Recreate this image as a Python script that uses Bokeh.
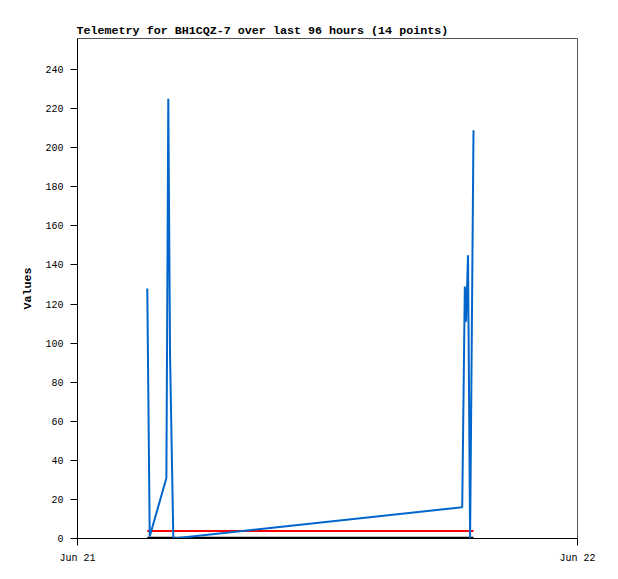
import pandas as pd
from bokeh.plotting import figure
from bokeh.models import FixedTicker, DatetimeTickFormatter
from bokeh.embed import file_html
from bokeh.resources import INLINE

# telemetry samples
times = ["2024-06-21 03:21:00", "2024-06-21 03:28:00", "2024-06-21 04:16:00",
         "2024-06-21 04:21:30", "2024-06-21 04:26:30", "2024-06-21 04:36:00",
         "2024-06-21 18:28:00", "2024-06-21 18:35:30", "2024-06-21 18:39:00",
         "2024-06-21 18:44:40", "2024-06-21 18:50:40", "2024-06-21 19:00:30"]
blue_vals = [128, 1, 31, 225, 94, 0, 16, 129, 111, 145, 0, 209]
red_vals = [3.8, 3.8, 3.8, 3.8, 3.8, 3.8, 3.8, 3.8, 3.8, 3.8, 3.8, 3.8]
black_vals = [0, 0, 0, 0, 0, 0, 0, 0, 0, 0, 0, 0]

x_start = "2024-06-21"
x_end = "2024-06-22"
y_ticks = [0, 20, 40, 60, 80, 100, 120, 140, 160, 180, 200, 220, 240]
title_text = "Telemetry for BH1CQZ-7 over last 96 hours (14 points)"

MONO = "Liberation Mono"

t = pd.to_datetime(times)
t0 = pd.Timestamp(x_start)
t1 = pd.Timestamp(x_end)

p = figure(width=618, height=579, x_axis_type="datetime",
           x_range=(t0, t1), y_range=(0, 255.9),
           output_backend="svg", toolbar_location=None,
           min_border_left=77, min_border_right=41,
           min_border_top=38, min_border_bottom=41,
           title=title_text)

p.title.text_font = MONO
p.title.text_font_size = "11.7px"
p.title.text_font_style = "bold"
p.title.text_color = "black"
p.title.align = "left"
p.title.standoff = 1
p.title.offset = -1

p.outline_line_color = "#555555"
p.xgrid.visible = False
p.ygrid.visible = False

for ax in (p.xaxis[0], p.yaxis[0]):
    ax.axis_line_color = "black"
    ax.major_tick_line_color = "black"
    ax.major_tick_in = 0
    ax.major_tick_out = 7
    ax.minor_tick_line_color = None
    ax.major_label_text_font = MONO
    ax.major_label_text_font_size = "10px"
    ax.major_label_text_color = "black"
    ax.major_label_standoff = 7

p.yaxis.ticker = FixedTicker(ticks=y_ticks)
p.yaxis.axis_label = "Values"
p.yaxis.axis_label_text_font = MONO
p.yaxis.axis_label_text_font_size = "11.7px"
p.yaxis.axis_label_text_font_style = "bold"
p.yaxis.axis_label_text_color = "black"
p.yaxis.axis_label_standoff = 7

p.xaxis.ticker = FixedTicker(ticks=[t0.value // 10**6, t1.value // 10**6])
fmt = "%b %d"
p.xaxis.formatter = DatetimeTickFormatter(
    milliseconds=fmt, seconds=fmt, minsec=fmt, minutes=fmt, hourmin=fmt,
    hours=fmt, days=fmt, months=fmt, years=fmt)

p.line(t, black_vals, line_color="black", line_width=3.5)
p.line(t, red_vals, line_color="#ff0000", line_width=2)
p.line(t, blue_vals, line_color="#0066cc", line_width=2)

open("out.html", "w").write(file_html(p, INLINE))
